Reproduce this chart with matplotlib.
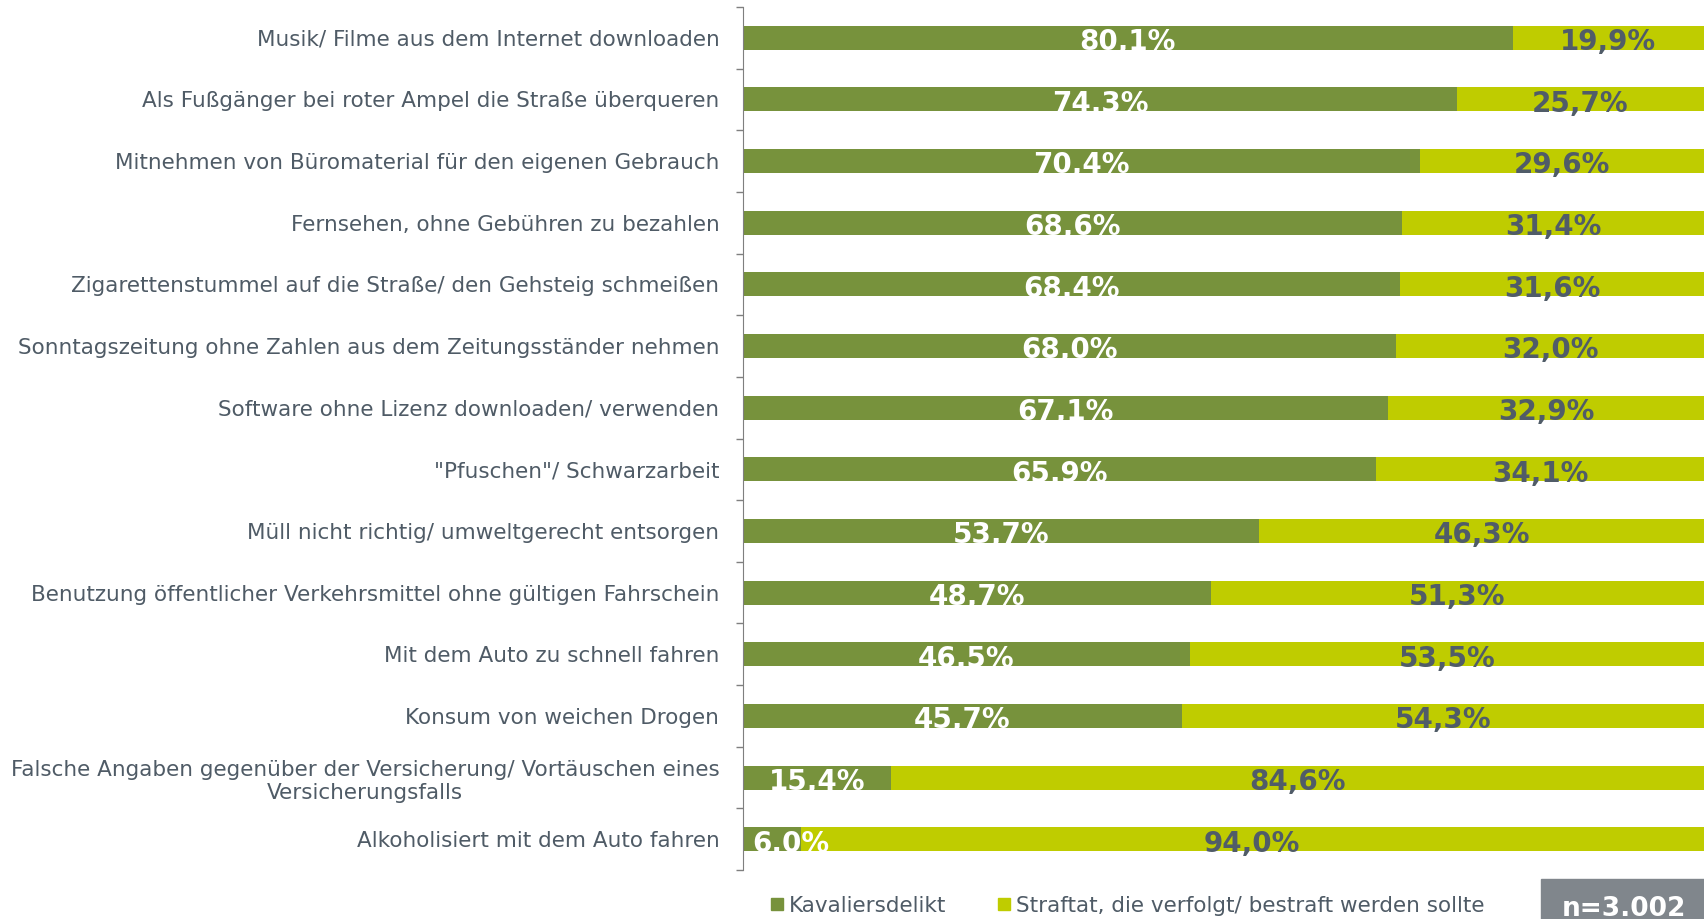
import numpy as np
import matplotlib.pyplot as plt
from matplotlib.lines import Line2D

# Daten
kategorien = [
    "Musik/ Filme aus dem Internet downloaden",
    "Als Fußgänger bei roter Ampel die Straße überqueren",
    "Mitnehmen von Büromaterial für den eigenen Gebrauch",
    "Fernsehen, ohne Gebühren zu bezahlen",
    "Zigarettenstummel auf die Straße/ den Gehsteig schmeißen",
    "Sonntagszeitung ohne Zahlen aus dem Zeitungsständer nehmen",
    "Software ohne Lizenz downloaden/ verwenden",
    "\"Pfuschen\"/ Schwarzarbeit",
    "Müll nicht richtig/ umweltgerecht entsorgen",
    "Benutzung öffentlicher Verkehrsmittel ohne gültigen Fahrschein",
    "Mit dem Auto zu schnell fahren",
    "Konsum von weichen Drogen",
    "Falsche Angaben gegenüber der Versicherung/ Vortäuschen eines\nVersicherungsfalls",
    "Alkoholisiert mit dem Auto fahren",
]
kavaliersdelikt = [80.1, 74.3, 70.4, 68.6, 68.4, 68.0, 67.1, 65.9, 53.7, 48.7, 46.5, 45.7, 15.4, 6.0]
straftat = [19.9, 25.7, 29.6, 31.4, 31.6, 32.0, 32.9, 34.1, 46.3, 51.3, 53.5, 54.3, 84.6, 94.0]
serien = ["Kavaliersdelikt", "Straftat, die verfolgt/ bestraft werden sollte"]
n_text = "n=3.002"

dunkelgruen = "#77923c"
hellgruen = "#bfcc00"
textgrau = "#4f5b66"
labelgrau = "#505c68"

fig = plt.figure(figsize=(17.04, 9.19), dpi=100)
ax = fig.add_axes([0.436, 0.0533, 0.564, 0.9391])

y = np.arange(len(kategorien))
ax.barh(y, kavaliersdelikt, height=0.39, color=dunkelgruen)
ax.barh(y, straftat, left=kavaliersdelikt, height=0.39, color=hellgruen)

# Beschriftungen der Balken
for i, (a, b) in enumerate(zip(kavaliersdelikt, straftat)):
    txt_a = f"{a:.1f}%".replace(".", ",")
    txt_b = f"{b:.1f}%".replace(".", ",")
    if a < 10:
        ax.text(1, i + 0.07, txt_a, ha="left", va="center", color="white",
                fontsize=20, fontweight="bold")
    else:
        ax.text(a / 2, i + 0.07, txt_a, ha="center", va="center", color="white",
                fontsize=20, fontweight="bold")
    ax.text(a + b / 2, i + 0.07, txt_b, ha="center", va="center", color=labelgrau,
            fontsize=20, fontweight="bold")

ax.set_xlim(0, 100)
ax.set_ylim(len(kategorien) - 0.5, -0.5)
ax.set_yticks(y)
ax.set_yticklabels(kategorien, fontsize=15.5, color=textgrau, multialignment="center")
ax.set_yticks(np.arange(len(kategorien) + 1) - 0.5, minor=True)
ax.tick_params(axis="y", which="major", length=0, pad=17)
ax.tick_params(axis="y", which="minor", length=5, color="#7f7f7f", width=1)
ax.set_xticks([])
for s in ["top", "right", "bottom"]:
    ax.spines[s].set_visible(False)
ax.spines["left"].set_color("#7f7f7f")

# Legende
handles = [Line2D([], [], marker="s", linestyle="", markersize=8.6, color=dunkelgruen),
           Line2D([], [], marker="s", linestyle="", markersize=8.6, color=hellgruen)]
fig.legend(handles, serien, loc="center left", bbox_to_anchor=(0.4395, 0.0145), ncol=2,
           frameon=False, fontsize=15.5, labelcolor=textgrau, handletextpad=0.15,
           columnspacing=2.3, handlelength=0.8)

# n-Box
fig.patches.append(plt.Rectangle((0.9043, 0.0), 0.0957, 0.0435, transform=fig.transFigure,
                                 color="#80868c", zorder=0))
fig.text(0.9533, 0.0105, n_text, ha="center", va="center", color="white",
         fontsize=19, fontweight="bold")

fig.savefig("out.png", dpi=100)
